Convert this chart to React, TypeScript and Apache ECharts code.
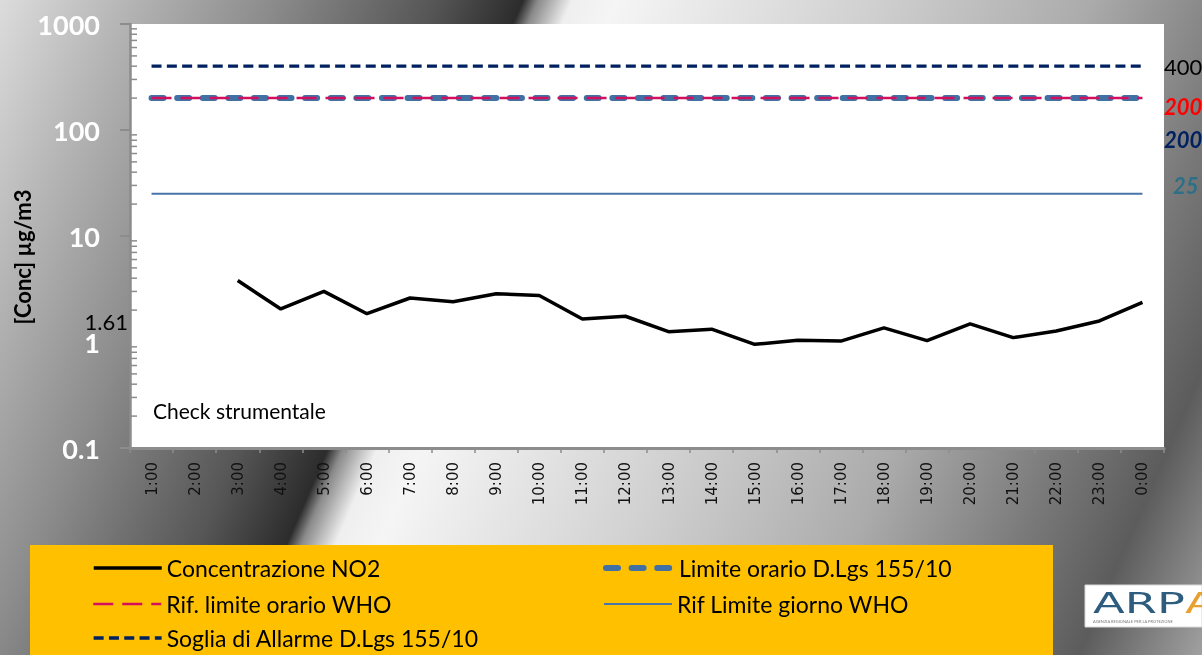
import { useEffect, useRef } from 'react';
import * as echarts from 'echarts';

// ---------- data ----------
const hours = ['1:00', '2:00', '3:00', '4:00', '5:00', '6:00', '7:00', '8:00', '9:00', '10:00', '11:00', '12:00',
  '13:00', '14:00', '15:00', '16:00', '17:00', '18:00', '19:00', '20:00', '21:00', '22:00', '23:00', '0:00'];

// Concentrazione NO2 (µg/m3), null = check strumentale
const no2 = [null, null, 3.8, 2.05, 3.0, 1.85, 2.6, 2.4, 2.85, 2.75, 1.65, 1.75,
  1.25, 1.32, 0.95, 1.04, 1.02, 1.36, 1.03, 1.48, 1.1, 1.27, 1.58, 2.37];

const limiteOrarioDlgs = 200;      // Limite orario D.Lgs 155/10
const rifLimiteOrarioWho = 200;    // Rif. limite orario WHO
const rifLimiteGiornoWho = 25;     // Rif Limite giorno WHO
const sogliaAllarme = 400;         // Soglia di Allarme D.Lgs 155/10

const yMin = 0.1;
const yMax = 1000;
const minorTickValues = [0.2, 0.3, 0.4, 0.5, 0.6, 0.7, 0.8, 0.9, 2, 3, 4, 5, 6, 7, 8, 9,
  20, 30, 40, 50, 60, 70, 80, 90, 200, 300, 400, 500, 600, 700, 800, 900];

const mediaLabel = '1.61';
const noteLabel = 'Check strumentale';

const seriesNames = {
  no2: 'Concentrazione NO2',
  limOrario: 'Limite orario D.Lgs 155/10',
  rifOrario: 'Rif. limite orario WHO',
  rifGiorno: 'Rif Limite giorno WHO',
  soglia: 'Soglia di Allarme D.Lgs 155/10',
};

// ---------- styles ----------
const FONT = 'Lato, "Open Sans", sans-serif';
const C_NAVY = '#002060';
const C_STEEL = '#4170A4';
const C_RED = '#D10F5C';
const C_DAY = '#4A74A8';

export default function App() {
  const ref = useRef<HTMLDivElement>(null);

  useEffect(() => {
    if (!ref.current) return;
    const chart = echarts.init(ref.current, null, { renderer: 'svg' });

    const legendBase = {
      orient: 'horizontal',
      itemWidth: 68,
      itemHeight: 14,
      itemGap: 0,
      padding: 0,
      selectedMode: false,
      itemStyle: { opacity: 0 },
      textStyle: { fontFamily: FONT, fontSize: 23, color: '#000', lineHeight: 26 },
    };

    const bgStops = [
      { offset: 0, color: '#dcdcdc' },
      { offset: 0.088, color: '#b4b4b4' },
      { offset: 0.183, color: '#8c8c8c' },
      { offset: 0.293, color: '#565656' },
      { offset: 0.352, color: '#2c2c2c' },
      { offset: 0.362, color: '#8a8a8a' },
      { offset: 0.385, color: '#efefef' },
      { offset: 0.415, color: '#f5f5f5' },
      { offset: 0.587, color: '#d0d0d0' },
      { offset: 0.734, color: '#ababab' },
      { offset: 0.844, color: '#7a7a7a' },
      { offset: 0.917, color: '#5c5c5c' },
      { offset: 1, color: '#a0a0a0' },
    ];

    const option: any = {
      animation: false,
      grid: {
        left: 130, right: 38, top: 24, bottom: 207,
        show: true, backgroundColor: '#ffffff', borderWidth: 0,
      },
      xAxis: {
        type: 'category',
        data: hours,
        boundaryGap: true,
        axisLine: { show: true, lineStyle: { color: '#8c8c8c', width: 3 } },
        axisTick: { show: true, length: 5, lineStyle: { color: '#8c8c8c', width: 1.5 } },
        axisLabel: {
          rotate: 90, margin: 14, interval: 0,
          fontFamily: '"DejaVu Sans", sans-serif', fontSize: 15, color: '#111',
        },
        splitLine: { show: false },
      },
      yAxis: {
        type: 'log',
        logBase: 10,
        min: yMin,
        max: yMax,
        axisLine: { show: true, lineStyle: { color: '#8c8c8c', width: 2.5 } },
        axisTick: { show: true, length: 10, lineStyle: { color: '#8c8c8c', width: 2 } },
        axisLabel: {
          margin: 30, color: '#ffffff', fontFamily: FONT, fontWeight: 'bold', fontSize: 27,
          formatter: (v: number) => (v < 1 ? v.toFixed(1) : String(Math.round(v))),
        },
        splitLine: { show: false },
      },
      legend: [
        { ...legendBase, data: [seriesNames.no2], left: 92, top: 555, lineStyle: { width: 3.5 } },
        { ...legendBase, data: [seriesNames.limOrario], left: 603, top: 555, lineStyle: { width: 6 } },
        { ...legendBase, data: [seriesNames.rifOrario], left: 92, top: 591, lineStyle: { width: 2.5 } },
        { ...legendBase, data: [seriesNames.rifGiorno], left: 603, top: 591, lineStyle: { width: 2 } },
        { ...legendBase, data: [seriesNames.soglia], left: 92, top: 625, lineStyle: { width: 3.3 } },
      ],
      series: [
        {
          name: 'minorTicks',
          type: 'custom',
          silent: true,
          data: minorTickValues.map((v) => [0, v]),
          encode: { x: 0, y: 1 },
          renderItem: (params: any, api: any) => {
            const p = api.coord([0, api.value(1)]);
            const cs = params.coordSys;
            return {
              type: 'line',
              shape: { x1: cs.x, y1: p[1], x2: cs.x + 7, y2: p[1] },
              style: { stroke: '#8c8c8c', lineWidth: 1.5 },
            };
          },
          z: 3,
        },
        {
          name: seriesNames.no2,
          type: 'line',
          data: no2,
          symbol: 'none',
          connectNulls: false,
          itemStyle: { color: '#000' },
          lineStyle: { color: '#000', width: 3.5 },
          z: 6,
        },
        {
          name: seriesNames.rifGiorno,
          type: 'line',
          data: hours.map(() => rifLimiteGiornoWho),
          symbol: 'none',
          itemStyle: { color: C_DAY },
          lineStyle: { color: C_DAY, width: 2 },
          z: 3,
        },
        {
          name: seriesNames.soglia,
          type: 'line',
          data: hours.map(() => sogliaAllarme),
          symbol: 'none',
          itemStyle: { color: C_NAVY },
          lineStyle: { color: C_NAVY, width: 3.3, type: [10, 5.3] },
          z: 3,
        },
        {
          name: seriesNames.limOrario,
          type: 'line',
          data: hours.map(() => limiteOrarioDlgs),
          symbol: 'none',
          itemStyle: { color: C_STEEL },
          lineStyle: { color: C_STEEL, width: 6, type: [12, 13.6], cap: 'round' },
          z: 4,
        },
        {
          name: seriesNames.rifOrario,
          type: 'line',
          data: hours.map(() => rifLimiteOrarioWho),
          symbol: 'none',
          itemStyle: { color: C_RED },
          lineStyle: { color: C_RED, width: 2.5, type: [20, 9] },
          z: 5,
        },
      ],
      graphic: [
        {
          type: 'rect', z: -10, silent: true,
          shape: { x: 0, y: 0, width: 1202, height: 655 },
          style: { fill: new echarts.graphic.LinearGradient(0, 0, 1250, 544, bgStops, true) },
        },
        {
          type: 'rect', z: 1, silent: true,
          shape: { x: 30, y: 545, width: 1023, height: 110 },
          style: { fill: '#FFC000' },
        },
        {
          type: 'text', z: 10, silent: true,
          x: 22, y: 257, rotation: Math.PI / 2,
          style: {
            text: '[Conc] µg/m3', fontFamily: FONT, fontWeight: 'bold', fontSize: 22,
            fill: '#000', textAlign: 'center', textVerticalAlign: 'middle',
          },
        },
        {
          type: 'text', z: 10, silent: true, x: 128, y: 321,
          style: {
            text: mediaLabel, fontFamily: FONT, fontSize: 22, fill: '#000',
            textAlign: 'right', textVerticalAlign: 'middle',
          },
        },
        {
          type: 'text', z: 10, silent: true, x: 153, y: 410,
          style: {
            text: noteLabel, fontFamily: FONT, fontSize: 21, fill: '#000',
            textAlign: 'left', textVerticalAlign: 'middle',
          },
        },
        {
          type: 'text', z: 10, silent: true, x: 1164, y: 66,
          style: {
            text: String(sogliaAllarme), fontFamily: FONT, fontSize: 22, fill: '#000',
            textAlign: 'left', textVerticalAlign: 'middle',
          },
        },
        {
          type: 'text', z: 10, silent: true, x: 1164, y: 106,
          style: {
            text: String(rifLimiteOrarioWho), fontFamily: FONT, fontSize: 22, fontWeight: 'bold',
            fontStyle: 'italic', fill: '#FF0000', textAlign: 'left', textVerticalAlign: 'middle',
          },
        },
        {
          type: 'text', z: 10, silent: true, x: 1164, y: 139,
          style: {
            text: String(limiteOrarioDlgs), fontFamily: FONT, fontSize: 22, fontWeight: 'bold',
            fontStyle: 'italic', fill: C_NAVY, textAlign: 'left', textVerticalAlign: 'middle',
          },
        },
        {
          type: 'text', z: 10, silent: true, x: 1173, y: 185,
          style: {
            text: String(rifLimiteGiornoWho), fontFamily: FONT, fontSize: 22, fontWeight: 'bold',
            fontStyle: 'italic', fill: '#2C6F86', textAlign: 'left', textVerticalAlign: 'middle',
          },
        },
        {
          type: 'group', x: 1085, y: 585, z: 10, silent: true,
          children: [
            { type: 'rect', shape: { x: 0, y: 0, width: 117, height: 42 }, style: { fill: '#ffffff', stroke: '#d8d8d8', lineWidth: 1 } },
            {
              type: 'text', x: 8, y: 18, scaleX: 1.6,
              style: {
                text: '{b|ARP}{o|A}', textVerticalAlign: 'middle', textAlign: 'left',
                rich: {
                  b: { fontFamily: '"DejaVu Sans", sans-serif', fontSize: 29, fill: '#2D5C7E', color: '#2D5C7E' },
                  o: { fontFamily: '"DejaVu Sans", sans-serif', fontSize: 29, fill: '#E8A030', color: '#E8A030' },
                },
              },
            },
            {
              type: 'text', x: 8, y: 36,
              style: {
                text: 'AGENZIA REGIONALE PER LA PROTEZIONE', fontFamily: FONT,
                fontSize: 4, fill: '#7a7a7a', textAlign: 'left', textVerticalAlign: 'middle',
              },
            },
          ],
        },
      ],
    };

    chart.setOption(option);
    return () => chart.dispose();
  }, []);

  return (
    <div
      ref={ref}
      style={{ position: 'fixed', left: 0, top: 0, width: 1202, height: 655 }}
    />
  );
}
